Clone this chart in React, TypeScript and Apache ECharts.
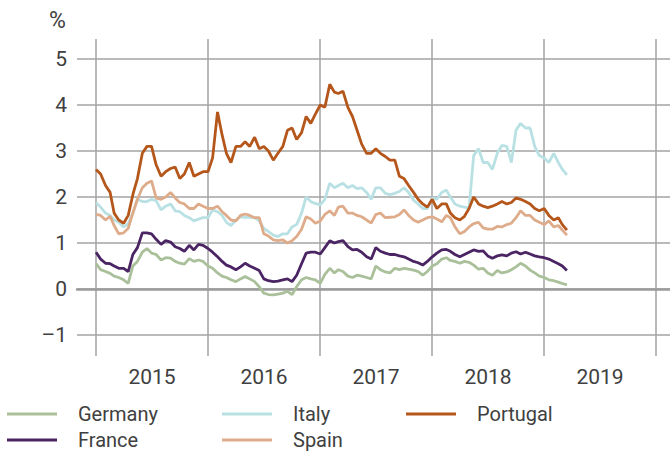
import React, { useEffect, useRef } from "react";
import * as echarts from "echarts";

const dates = [
  "2015-01-01","2015-01-16","2015-02-01","2015-02-16","2015-03-01","2015-03-16","2015-04-01","2015-04-16","2015-05-01","2015-05-16","2015-06-01","2015-06-16",
  "2015-07-01","2015-07-16","2015-08-01","2015-08-16","2015-09-01","2015-09-16","2015-10-01","2015-10-16","2015-11-01","2015-11-16","2015-12-01","2015-12-16",
  "2016-01-01","2016-01-16","2016-02-01","2016-02-16","2016-03-01","2016-03-16","2016-04-01","2016-04-16","2016-05-01","2016-05-16","2016-06-01","2016-06-16",
  "2016-07-01","2016-07-16","2016-08-01","2016-08-16","2016-09-01","2016-09-16","2016-10-01","2016-10-16","2016-11-01","2016-11-16","2016-12-01","2016-12-16",
  "2017-01-01","2017-01-16","2017-02-01","2017-02-16","2017-03-01","2017-03-16","2017-04-01","2017-04-16","2017-05-01","2017-05-16","2017-06-01","2017-06-16",
  "2017-07-01","2017-07-16","2017-08-01","2017-08-16","2017-09-01","2017-09-16","2017-10-01","2017-10-16","2017-11-01","2017-11-16","2017-12-01","2017-12-16",
  "2018-01-01","2018-01-16","2018-02-01","2018-02-16","2018-03-01","2018-03-16","2018-04-01","2018-04-16","2018-05-01","2018-05-16","2018-06-01","2018-06-16",
  "2018-07-01","2018-07-16","2018-08-01","2018-08-16","2018-09-01","2018-09-16","2018-10-01","2018-10-16","2018-11-01","2018-11-16","2018-12-01","2018-12-16",
  "2019-01-01","2019-01-16","2019-02-01","2019-02-16","2019-03-01","2019-03-16",
];

const years = ["2015", "2016", "2017", "2018", "2019"];

const germany = [
  0.55,0.42,0.38,0.34,0.28,0.25,0.2,0.12,0.5,0.6,0.8,0.88,0.78,0.75,0.63,0.68,0.67,0.6,0.56,0.54,0.66,0.6,0.63,0.6,
  0.5,0.45,0.35,0.28,0.25,0.2,0.16,0.22,0.27,0.22,0.16,0.05,-0.09,-0.12,-0.13,-0.11,-0.09,-0.05,-0.12,0.05,0.2,0.25,0.22,0.2,
  0.12,0.32,0.45,0.35,0.42,0.38,0.28,0.25,0.3,0.28,0.25,0.22,0.5,0.42,0.37,0.35,0.45,0.42,0.45,0.43,0.41,0.38,0.3,0.38,
  0.5,0.55,0.65,0.68,0.62,0.6,0.56,0.6,0.58,0.52,0.43,0.45,0.35,0.3,0.4,0.35,0.37,0.42,0.48,0.56,0.5,0.41,0.35,0.28,
  0.25,0.2,0.18,0.15,0.12,0.09,
];

const france = [
  0.8,0.65,0.56,0.55,0.5,0.45,0.45,0.38,0.75,0.9,1.22,1.22,1.2,1.08,0.97,1.05,1.02,0.92,0.88,0.82,0.95,0.85,0.97,0.95,
  0.88,0.8,0.7,0.6,0.52,0.48,0.42,0.48,0.56,0.5,0.45,0.4,0.22,0.18,0.16,0.17,0.2,0.22,0.16,0.3,0.55,0.78,0.8,0.8,
  0.76,0.9,1.05,1.0,1.03,1.05,0.92,0.85,0.86,0.8,0.7,0.65,0.9,0.82,0.78,0.75,0.75,0.72,0.7,0.65,0.6,0.57,0.52,0.6,
  0.7,0.78,0.85,0.86,0.82,0.75,0.7,0.75,0.8,0.85,0.82,0.83,0.72,0.67,0.72,0.74,0.72,0.78,0.81,0.76,0.8,0.76,0.72,0.7,
  0.68,0.65,0.6,0.55,0.5,0.4,
];

const italy = [
  1.88,1.78,1.65,1.6,1.5,1.45,1.35,1.42,1.65,1.95,1.9,1.9,1.95,1.92,1.72,1.8,1.85,1.7,1.68,1.6,1.55,1.48,1.52,1.55,
  1.55,1.72,1.68,1.6,1.45,1.38,1.5,1.57,1.56,1.56,1.55,1.48,1.32,1.25,1.17,1.14,1.2,1.2,1.35,1.4,1.65,2.0,1.9,1.86,
  1.83,1.95,2.3,2.2,2.25,2.3,2.2,2.25,2.18,2.2,2.1,1.95,2.2,2.2,2.08,2.05,2.08,2.12,2.2,2.1,1.93,1.85,1.75,1.75,
  1.98,1.95,2.1,2.15,2.0,1.85,1.8,1.78,1.76,2.9,3.05,2.75,2.75,2.6,2.95,3.12,3.1,2.75,3.45,3.6,3.5,3.5,3.1,2.9,
  2.85,2.75,2.95,2.75,2.6,2.48,
];

const spain = [
  1.62,1.6,1.5,1.58,1.38,1.2,1.22,1.32,1.65,1.95,2.2,2.3,2.35,1.98,1.95,2.0,2.1,1.98,1.88,1.85,1.75,1.75,1.85,1.8,
  1.75,1.75,1.8,1.68,1.6,1.5,1.48,1.6,1.63,1.6,1.55,1.55,1.2,1.15,1.07,1.05,1.07,1.0,1.05,1.14,1.3,1.57,1.52,1.43,
  1.48,1.62,1.7,1.6,1.78,1.8,1.65,1.65,1.6,1.57,1.5,1.43,1.62,1.65,1.55,1.56,1.57,1.62,1.72,1.6,1.5,1.45,1.5,1.55,
  1.57,1.52,1.46,1.6,1.55,1.35,1.2,1.25,1.35,1.42,1.45,1.33,1.3,1.3,1.36,1.35,1.4,1.43,1.55,1.7,1.6,1.6,1.5,1.45,
  1.4,1.48,1.35,1.38,1.28,1.17,
];

const portugal = [
  2.6,2.5,2.25,2.1,1.65,1.5,1.43,1.6,2.05,2.4,2.95,3.1,3.1,2.7,2.45,2.55,2.62,2.65,2.4,2.5,2.75,2.45,2.5,2.55,
  2.55,2.85,3.85,3.35,2.95,2.75,3.1,3.1,3.2,3.1,3.3,3.05,3.1,3.0,2.8,2.95,3.1,3.45,3.5,3.25,3.4,3.75,3.6,3.8,
  4.0,3.95,4.45,4.28,4.25,4.3,3.95,3.75,3.45,3.15,2.95,2.95,3.05,2.95,2.88,2.8,2.8,2.45,2.4,2.25,2.1,1.95,1.85,1.78,
  1.95,1.75,1.85,1.85,1.65,1.55,1.5,1.58,1.75,2.0,1.85,1.8,1.77,1.8,1.85,1.9,1.85,1.88,1.98,1.95,1.9,1.85,1.75,1.7,
  1.75,1.6,1.5,1.55,1.4,1.28,
];

const seriesDefs = [
  { name: "Germany", data: germany, color: "#a9c09a" },
  { name: "Italy", data: italy, color: "#b9e1e4" },
  { name: "Spain", data: spain, color: "#deac8a" },
  { name: "France", data: france, color: "#4a2463" },
  { name: "Portugal", data: portugal, color: "#b5561b" },
];

const FONT = "Roboto, 'Liberation Sans', sans-serif";
const TEXT = "#404040";
const GRIDC = "#a3a3a3";

export default function App() {
  const ref = useRef<HTMLDivElement>(null);
  useEffect(() => {
    document.body.style.margin = "0";
    if (!ref.current) return;
    const chart = echarts.init(ref.current, undefined, { renderer: "svg" });
    const legendBase = {
      orient: "vertical",
      icon: "rect",
      itemWidth: 50,
      itemHeight: 3,
      itemGap: 6,
      padding: 0,
      top: 404,
      height: 80,
      textStyle: {
        fontFamily: FONT,
        fontSize: 20,
        color: TEXT,
        lineHeight: 18,
        padding: [0, 0, 0, 16],
      },
    };
    chart.setOption({
      animation: false,
      backgroundColor: "#ffffff",
      title: {
        text: "%",
        left: 49,
        top: 9,
        padding: 0,
        textStyle: { fontFamily: FONT, fontSize: 23, color: TEXT, fontWeight: "normal" },
      },
      legend: [
        { ...legendBase, left: 7, data: ["Germany", "France"] },
        { ...legendBase, left: 222, data: ["Italy", "Spain"] },
        { ...legendBase, left: 406, data: ["Portugal"] },
      ],
      grid: [
        { left: 77, right: 0, top: 59, bottom: 117 },
        { left: 96, right: 14, top: 39, bottom: 96 },
      ],
      xAxis: [
        {
          type: "time",
          gridIndex: 0,
          min: "2014-10-31",
          max: "2020-02-15",
          axisLine: { show: true, onZero: true, lineStyle: { color: "#9b9b9b", width: 2.5 } },
          axisTick: { show: false },
          axisLabel: { show: false },
          splitLine: { show: false },
        },
        {
          type: "category",
          gridIndex: 1,
          data: years,
          boundaryGap: true,
          axisLine: { show: false },
          axisTick: { show: false },
          axisLabel: { fontFamily: FONT, fontSize: 21, color: TEXT, margin: 10, interval: 0 },
          splitLine: { show: true, interval: 0, lineStyle: { color: GRIDC, width: 1.5 } },
        },
      ],
      yAxis: [
        {
          type: "value",
          gridIndex: 0,
          min: -1,
          max: 5,
          interval: 1,
          axisLine: { show: false },
          axisTick: { show: false },
          axisLabel: {
            fontFamily: FONT,
            fontSize: 21,
            color: TEXT,
            margin: 10,
            formatter: (v: number) => (v < 0 ? "–" + Math.abs(v) : String(v)),
          },
          splitLine: { show: true, lineStyle: { color: GRIDC, width: 1.5 } },
        },
        {
          type: "value",
          gridIndex: 1,
          show: false,
          min: 0,
          max: 1,
        },
      ],
      series: seriesDefs.map((s) => ({
        name: s.name,
        type: "line",
        xAxisIndex: 0,
        yAxisIndex: 0,
        showSymbol: false,
        symbol: "none",
        color: s.color,
        lineStyle: { color: s.color, width: 2.8 },
        data: dates.map((d, i) => [d, s.data[i]]),
      })),
    });
    return () => chart.dispose();
  }, []);
  return <div ref={ref} style={{ width: 670, height: 452 }} />;
}
